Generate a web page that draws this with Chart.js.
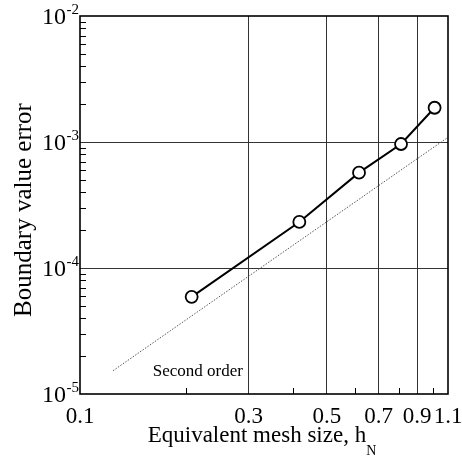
<!DOCTYPE html>
<html>
<head>
<meta charset="utf-8">
<script src="https://cdn.jsdelivr.net/npm/chart.js@4/dist/chart.umd.min.js"></script>
<style>
  html, body { margin: 0; padding: 0; background: #fff; }
</style>
</head>
<body>
<canvas id="chart" width="462" height="458"></canvas>
<script>
// values
const meshSize = [0.207, 0.4175, 0.616, 0.81, 1.008];
const boundaryError = [5.9e-5, 2.32e-4, 5.71e-4, 9.64e-4, 1.87e-3];
const refMesh = [0.124, 1.1];
const refError = [1.53e-5, 1.09e-3];

const xTicks = [0.1, 0.2, 0.3, 0.4, 0.5, 0.6, 0.7, 0.8, 0.9, 1.0, 1.1];
const xLabels = [0.1, 0.3, 0.5, 0.7, 0.9, 1.1];
const xGrid = [0.3, 0.5, 0.7, 0.9];
const xMinor = [0.2, 0.4, 0.6, 0.8, 1.0];
const yTicks = [1e-5, 1e-4, 1e-3, 1e-2];
const yGrid = [1e-4, 1e-3];
const yDecades = [1e-5, 1e-4, 1e-3];

const serif = '"Liberation Serif", "Times New Roman", serif';

function hasValue(list, v) {
    return list.some(a => Math.abs(a - v) < a * 1e-6);
}

// tick labels with superscripts, axis titles, frame and inward minor ticks
const decorPlugin = {
    id: 'decor',
    afterDraw(chart) {
        const ctx = chart.ctx;
        const area = chart.chartArea;
        const xs = chart.scales.x;
        const ys = chart.scales.y;
        ctx.save();
        ctx.strokeStyle = '#000';
        ctx.fillStyle = '#000';

        // minor ticks
        ctx.lineWidth = 1;
        ctx.beginPath();
        xMinor.forEach(v => {
            const px = Math.round(xs.getPixelForValue(v)) + 0.5;
            ctx.moveTo(px, area.bottom);
            ctx.lineTo(px, area.bottom - 6);
        });
        yDecades.forEach(d => {
            for (let m = 2; m <= 9; m++) {
                const py = Math.round(ys.getPixelForValue(m * d)) + 0.5;
                ctx.moveTo(area.left, py);
                ctx.lineTo(area.left + 6, py);
            }
        });
        ctx.stroke();

        // frame
        ctx.lineWidth = 1.6;
        ctx.strokeRect(area.left, area.top, area.right - area.left, area.bottom - area.top);

        // y tick labels 10^n
        yTicks.forEach(v => {
            const py = ys.getPixelForValue(v);
            const exp = Math.round(Math.log10(v));
            ctx.font = '24px ' + serif;
            ctx.textAlign = 'right';
            ctx.textBaseline = 'middle';
            ctx.fillText('10', 66, py + 1.5);
            ctx.font = '15px ' + serif;
            ctx.textAlign = 'left';
            ctx.textBaseline = 'alphabetic';
            ctx.fillText(String(exp), 66.5, py - 2.5);
        });

        // y title
        ctx.save();
        ctx.translate(31, (area.top + area.bottom) / 2 + 5);
        ctx.rotate(-Math.PI / 2);
        ctx.font = '25px ' + serif;
        ctx.textAlign = 'center';
        ctx.textBaseline = 'alphabetic';
        ctx.fillText('Boundary value error', 0, 0);
        ctx.restore();

        // x title with subscript
        const main = 'Equivalent mesh size, h';
        ctx.font = '23px ' + serif;
        const w1 = ctx.measureText(main).width;
        ctx.font = '14px ' + serif;
        const w2 = ctx.measureText('N').width;
        const x0 = (area.left + area.right) / 2 - 2 - (w1 + w2) / 2;
        ctx.textAlign = 'left';
        ctx.textBaseline = 'alphabetic';
        ctx.font = '23px ' + serif;
        ctx.fillText(main, x0, 442);
        ctx.font = '14px ' + serif;
        ctx.fillText('N', x0 + w1, 455);

        // reference slope label
        ctx.font = '17px ' + serif;
        ctx.fillText('Second order', xs.getPixelForValue(0.1607), ys.getPixelForValue(1.39e-5));
        ctx.restore();
    }
};

new Chart(document.getElementById('chart'), {
    type: 'line',
    data: {
        datasets: [{
            data: meshSize.map((h, i) => ({ x: h, y: boundaryError[i] })),
            borderColor: '#000',
            borderWidth: 2,
            pointRadius: 6,
            pointBorderWidth: 1.8,
            pointBorderColor: '#000',
            pointBackgroundColor: '#fff',
            tension: 0
        }, {
            data: refMesh.map((h, i) => ({ x: h, y: refError[i] })),
            borderColor: '#555',
            borderWidth: 1,
            borderDash: [1.5, 1.5],
            pointRadius: 0,
            tension: 0
        }]
    },
    options: {
        responsive: false,
        animation: false,
        layout: { padding: { top: 16, right: 14, left: 0, bottom: 0 } },
        plugins: {
            legend: { display: false },
            tooltip: { enabled: false }
        },
        scales: {
            x: {
                type: 'logarithmic',
                min: 0.1,
                max: 1.1,
                afterBuildTicks: s => { s.ticks = xTicks.map(v => ({ value: v })); },
                afterFit: s => {
                    s.height = 64;
                    s.paddingLeft = 0;
                    s.paddingRight = 0;
                },
                ticks: {
                    autoSkip: false,
                    maxRotation: 0,
                    padding: 9,
                    color: '#000',
                    font: { family: serif, size: 23 },
                    callback: v => hasValue(xLabels, v) ? v.toFixed(1) : ''
                },
                grid: {
                    drawTicks: false,
                    lineWidth: 1,
                    color: c => (c.tick && hasValue(xGrid, c.tick.value)) ? '#333' : 'rgba(0,0,0,0)'
                },
                border: { display: false }
            },
            y: {
                type: 'logarithmic',
                min: 1e-5,
                max: 1e-2,
                afterBuildTicks: s => { s.ticks = yTicks.map(v => ({ value: v })); },
                afterFit: s => {
                    s.width = 80;
                    s.paddingTop = 0;
                    s.paddingBottom = 0;
                },
                ticks: { display: false },
                grid: {
                    drawTicks: false,
                    lineWidth: 1,
                    color: c => (c.tick && hasValue(yGrid, c.tick.value)) ? '#333' : 'rgba(0,0,0,0)'
                },
                border: { display: false }
            }
        }
    },
    plugins: [decorPlugin]
});
</script>
</body>
</html>
